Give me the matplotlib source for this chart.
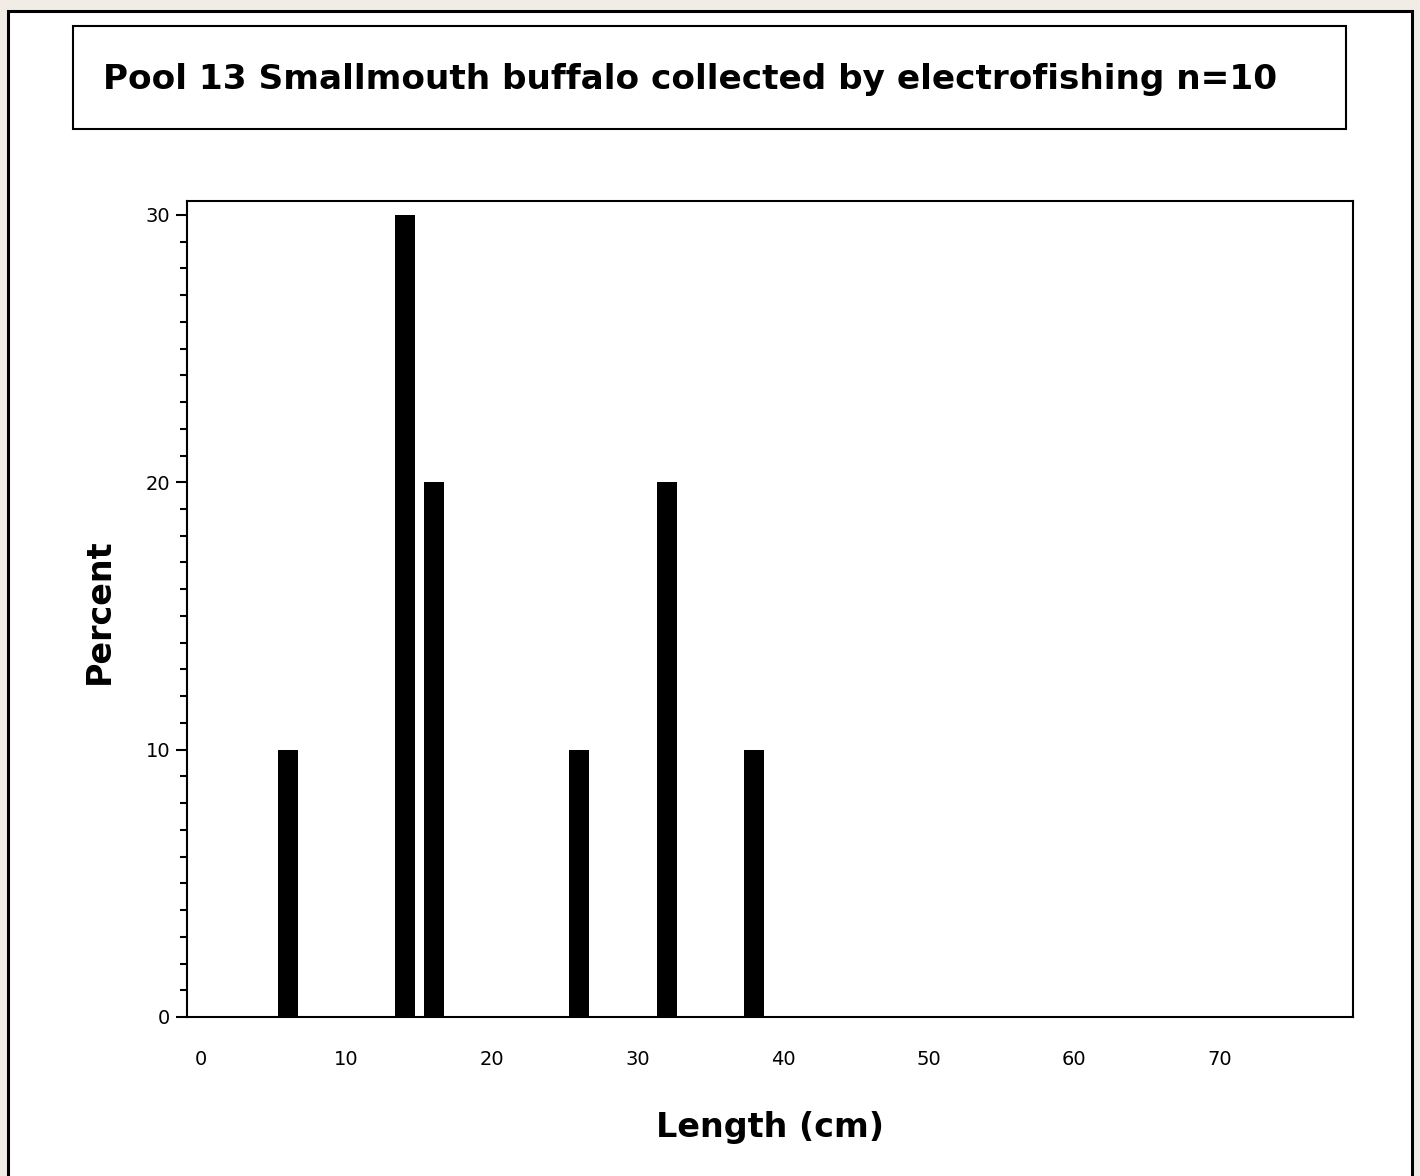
import matplotlib
matplotlib.use('Agg')
import matplotlib.pyplot as plt
from matplotlib.patches import Rectangle
from matplotlib.ticker import MultipleLocator

# ---- data ----
lengths = [6, 14, 16, 26, 32, 38]
percents = [10, 30, 20, 10, 20, 10]
xticks = [0, 10, 20, 30, 40, 50, 60, 70]
yticks = [0, 10, 20, 30]
title = "Pool 13 Smallmouth buffalo collected by electrofishing n=10"
xlabel = "Length (cm)"
ylabel = "Percent"

FONT = ['DejaVu Sans']
plt.rcParams['font.family'] = FONT

W, H = 1420, 1176
fig = plt.figure(figsize=(W / 100, H / 100), dpi=100)
fig.patch.set_facecolor('#f1ede6')

# white panel with black border
fig.patches.append(Rectangle((8 / W, -0.02), (1412 - 8) / W, (H - 11) / H + 0.02,
                             transform=fig.transFigure, facecolor='white',
                             edgecolor='black', linewidth=2.2, zorder=-3))
# title box
fig.patches.append(Rectangle((73 / W, 1 - 129 / H), (1346 - 73) / W, (129 - 26) / H,
                             transform=fig.transFigure, facecolor='white',
                             edgecolor='black', linewidth=1.5, zorder=-2))
fig.text(103 / W, 1 - 80 / H, title, ha='left', va='center', fontsize=24.7,
         fontweight='bold', zorder=2)

ax = fig.add_axes([187 / W, 1 - 1017 / H, (1353 - 187) / W, (1017 - 201) / H])
ax.set_facecolor('white')
ax.bar(lengths, percents, width=1.37, color='black', align='center', zorder=3)

ax.set_xlim(-0.95, 79.15)
ax.set_ylim(0, 30.52)
ax.set_xticks(xticks)
ax.set_yticks(yticks)
ax.yaxis.set_minor_locator(MultipleLocator(1))

for s in ax.spines.values():
    s.set_linewidth(1.5)
    s.set_color('black')

ax.tick_params(axis='x', which='both', length=0, pad=24, labelsize=14)
ax.tick_params(axis='y', which='major', length=8, width=1.5, pad=4, labelsize=14)
ax.tick_params(axis='y', which='minor', length=5, width=1.5)

ax.set_xlabel(xlabel, fontsize=24, fontweight='bold')
ax.set_ylabel(ylabel, fontsize=24, fontweight='bold')
ax.xaxis.set_label_coords((770 - 187) / (1353 - 187), -(1127 - 1017) / (1017 - 201))
ax.yaxis.set_label_coords(-(187 - 99) / (1353 - 187), (1017 - 611) / (1017 - 201))
ax.xaxis.label.set_va('center')
ax.yaxis.label.set_va('center')

fig.savefig('out.png', dpi=100, facecolor=fig.get_facecolor())
